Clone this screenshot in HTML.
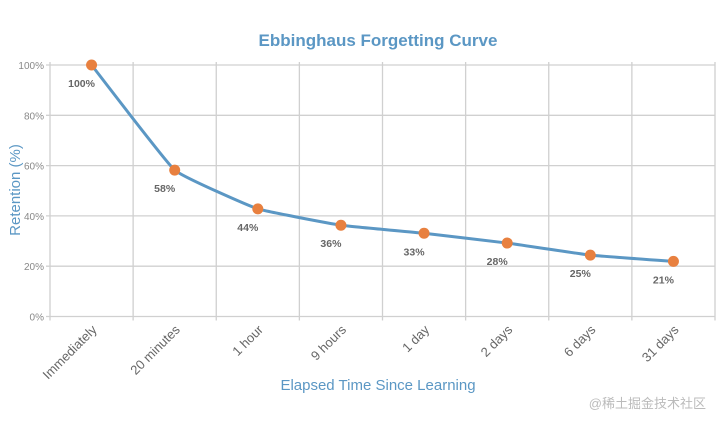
<!DOCTYPE html>
<html><head><meta charset="utf-8"><style>
html,body{margin:0;padding:0;background:#fff;width:720px;height:424px;overflow:hidden}
svg{font-family:"Liberation Sans",sans-serif}
</style></head><body>
<svg id="chart" width="720" height="424">
<text x="378" y="46" text-anchor="middle" font-size="17" font-weight="bold" fill="#5b97c4">Ebbinghaus Forgetting Curve</text>
<text transform="translate(20,190) rotate(-90)" text-anchor="middle" font-size="15" fill="#5b97c4">Retention (%)</text>
<text x="378" y="390" text-anchor="middle" font-size="15" fill="#5b97c4">Elapsed Time Since Learning</text>
<text x="706" y="408" text-anchor="end" font-size="13" fill="#bbb" font-family="'Liberation Sans','Noto Sans CJK SC',sans-serif">@稀土掘金技术社区</text>
<g id="grid"></g><g id="series"></g>
</svg>
<script>
const categories=["Immediately","20 minutes","1 hour","9 hours","1 day","2 days","6 days","31 days"];
const values=[100,58.2,42.8,36.3,33.1,29.2,24.4,21.9];
const labels=["100%","58%","44%","36%","33%","28%","25%","21%"];
const yTicks=[0,20,40,60,80,100];
const L=50,R=715,T=65,B=316.5;
const bw=(R-L)/categories.length;
const x=i=>L+bw*(i+0.5);
const y=v=>B-(B-T)*v/100;
const NS="http://www.w3.org/2000/svg";
const grid=document.getElementById('grid'),ser=document.getElementById('series');
function mk(tag,attrs,parent){const e=document.createElementNS(NS,tag);for(const k in attrs)e.setAttribute(k,attrs[k]);parent.appendChild(e);return e;}
yTicks.forEach(t=>{
  const l=mk('line',{x1:L-4,x2:R,y1:y(t),y2:y(t),stroke:'#d0d0d0','stroke-width':1.3},grid);
  
  
  const tx=mk('text',{x:L-6,y:y(t)+4,'text-anchor':'end','font-size':10,fill:'#888'},grid);
  tx.textContent=t+'%';
  
  
});
for(let i=0;i<=categories.length;i++){
  const gx=L+bw*i;
  const l=mk('line',{x1:gx,x2:gx,y1:T-3,y2:B+4,stroke:'#d0d0d0','stroke-width':1.3},grid);
  
  
}
categories.forEach((c,i)=>{
  const tx=mk('text',{x:0,y:0,'text-anchor':'end','font-size':13,fill:'#666',transform:`translate(${x(i)+6},${B+14}) rotate(-45)`},grid);
  tx.textContent=c;
  
  
});
const pts=values.map((v,i)=>[x(i),y(v)]);
let d=`M${pts[0][0]},${pts[0][1]}`;
const tn=0.05;
for(let i=0;i<pts.length-1;i++){
  const p0=pts[i-1]||pts[i],p1=pts[i],p2=pts[i+1],p3=pts[i+2]||p2;
  const c1=[p1[0]+(p2[0]-p0[0])*tn,p1[1]+(p2[1]-p0[1])*tn];
  const c2=[p2[0]-(p3[0]-p1[0])*tn,p2[1]-(p3[1]-p1[1])*tn];
  d+=` C${c1[0]},${c1[1]} ${c2[0]},${c2[1]} ${p2[0]},${p2[1]}`;
}
const line=mk('path',{d:d,fill:'none',stroke:'#5b97c4','stroke-width':3},ser);


values.forEach((v,i)=>{
  const c=mk('circle',{cx:x(i),cy:y(v),r:5.5,fill:'#e8803f'},ser);
  
  
  const t=mk('text',{x:x(i)-10,y:y(v)+22,'text-anchor':'middle','font-size':10.5,'font-weight':'bold',fill:'#666'},ser);
  t.textContent=labels[i];
  
  
});
</script>
</body></html>
